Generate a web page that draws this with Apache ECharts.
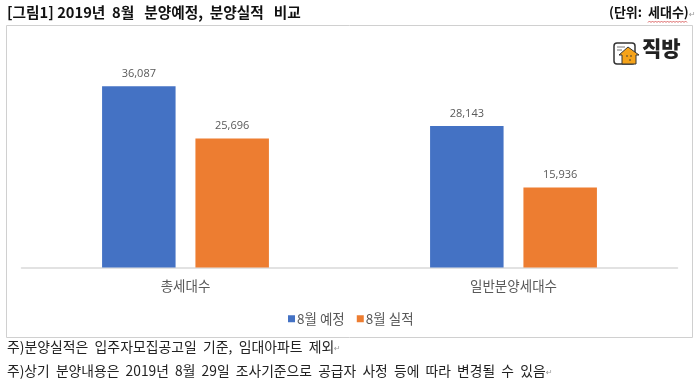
<!DOCTYPE html>
<html><head><meta charset="utf-8">
<style>html,body{margin:0;padding:0;background:#fff}#c{width:700px;height:383px}</style>
<script src="https://cdn.jsdelivr.net/npm/echarts@6/dist/echarts.min.js"></script>
</head><body><div id="c"></div>
<script>
const categories = ['총세대수', '일반분양세대수'];
const planned = [36087, 28143];
const actual = [25696, 15936];
const seriesNames = ['8월 예정', '8월 실적'];
const titleText = '[그림1] 2019년  8월   분양예정,  분양실적   비교';
const unitText = '(단위:  세대수)';
const note1 = '주)분양실적은  입주자모집공고일  기준,  임대아파트  제외';
const note2 = '주)상기  분양내용은  2019년  8월  29일  조사기준으로  공급자  사정  등에  따라  변경될  수  있음';
const font = '"Noto Sans CJK KR", sans-serif';
const chart = echarts.init(document.getElementById('c'), null, {renderer:'canvas'});
const label = {show:true, position:'top', distance:7, color:'#595959', fontSize:11, fontFamily:'"Open Sans", sans-serif',
  formatter:p=>p.value.toLocaleString('en-US')};
function squiggle(){
  const pts=[]; for(let i=0;i<=26;i++) pts.push([648+i*1.5, i%2?21:22.5]);
  return pts;
}
const ret=(x,y)=>({type:'text',x,y,style:{text:'↵',font:'8px "DejaVu Sans"',fill:'#999'}});
chart.setOption({
  animation:false,
  backgroundColor:'#fff',
  grid:{left:21.5,right:22.5,top:66.5,bottom:115.5},
  legend:{data:seriesNames,left:283,top:307,itemWidth:7,itemHeight:7,itemGap:12,icon:'rect',
    textStyle:{color:'#595959',fontSize:13.5,fontFamily:font,padding:[0,0,0,-3]}},
  xAxis:{type:'category',data:categories,axisTick:{show:false},
    axisLine:{lineStyle:{color:'#d9d9d9',width:1.5}},
    axisLabel:{color:'#595959',fontSize:13.5,margin:12,fontFamily:font}},
  yAxis:{type:'value',min:0,max:40000,show:false,splitLine:{show:false}},
  series:[
    {name:seriesNames[0],type:'bar',data:planned,barWidth:73.5,barGap:'27%',itemStyle:{color:'#4472c4'},label},
    {name:seriesNames[1],type:'bar',data:actual,barWidth:73.5,barGap:'27%',itemStyle:{color:'#ed7d31'},label}
  ],
  graphic:[
    {type:'rect',z:-1,shape:{x:6.5,y:25.5,width:686,height:312},style:{fill:'#fff',stroke:'#d0d0d0',lineWidth:1}},
    {type:'text',x:7,y:5,style:{text:titleText,font:'bold 14.7px '+font,fill:'#111'}},
    {type:'text',x:609,y:6,style:{text:unitText,font:'bold 13px '+font,fill:'#111'}},
    {type:'polyline',shape:{points:squiggle()},style:{stroke:'#d66',fill:null,lineWidth:1}},
    ret(689,11),
    {type:'text',x:7,y:340,style:{text:note1,font:'13.9px '+font,fill:'#222'}},
    ret(334,345),
    {type:'text',x:7,y:364,style:{text:note2,font:'13.8px '+font,fill:'#222'}},
    ret(546,369),
    // logo
    {type:'rect',shape:{x:614,y:43,width:21,height:21,r:3},style:{fill:'#fff',stroke:'#333',lineWidth:1.5}},
    {type:'line',shape:{x1:617,y1:47,x2:625,y2:47},style:{stroke:'#777',lineWidth:1}},
    {type:'line',shape:{x1:617,y1:50,x2:622,y2:50},style:{stroke:'#777',lineWidth:1}},
    {type:'polygon',shape:{points:[[619,55],[628,47],[639,55],[636,55],[636,64],[622,64],[622,55]]},style:{fill:'#f5a31a',stroke:'#333',lineWidth:1}},
    {type:'circle',shape:{cx:627,cy:56,r:0.8},style:{fill:'#333'}},
    {type:'circle',shape:{cx:631,cy:56,r:0.8},style:{fill:'#333'}},
    {type:'circle',shape:{cx:630,cy:60,r:0.8},style:{fill:'#333'}},
    {type:'text',x:642,y:38,style:{text:'직방',font:'900 21px '+font,fill:'#222'}}
  ]
});
</script></body></html>
